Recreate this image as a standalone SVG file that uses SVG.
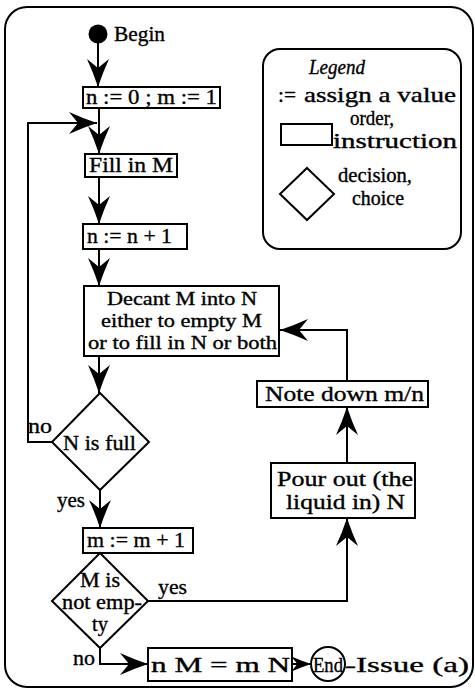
<svg xmlns="http://www.w3.org/2000/svg" width="475" height="689" viewBox="0 0 475 689">
  <style>
    .box { fill: #fff; stroke: #000; stroke-width: 2; }
    .ln { fill: none; stroke: #000; stroke-width: 2; }
    text { font-family: "Liberation Serif", "Times New Roman", serif; font-size: 22px; fill: #000; stroke: #000; stroke-width: 0.35; }
    .sm { font-size: 21px; }
    .xs { font-size: 20px; }
    .dc { font-size: 19px; }
    .it { font-style: italic; }
  </style>
  <defs>
    <!-- swept arrowhead with a notched back -->
    <marker id="arr" markerUnits="userSpaceOnUse" viewBox="0 0 28 22" markerWidth="28" markerHeight="22" refX="28" refY="11" orient="auto">
      <path d="M28,11 Q13,6 0,0 L9,11 L0,22 Q13,16 28,11 Z" fill="#000"/>
    </marker>
    <marker id="arrS" markerUnits="userSpaceOnUse" viewBox="0 0 28 22" markerWidth="20" markerHeight="16" refX="28" refY="11" orient="auto">
      <path d="M28,11 Q13,6 0,0 L9,11 L0,22 Q13,16 28,11 Z" fill="#000"/>
    </marker>
  </defs>

  <rect width="475" height="689" fill="#fff"/>

  <!-- outer frame -->
  <rect x="5" y="7" width="468" height="680" rx="22" class="ln"/>

  <!-- connectors -->
  <g id="connectors">
    <line x1="98" y1="43" x2="98" y2="87" class="ln" marker-end="url(#arr)"/>
    <line x1="99" y1="108" x2="99" y2="154" class="ln" marker-end="url(#arr)"/>
    <path d="M52,442 H28 V123 H97" class="ln" marker-end="url(#arr)"/>
    <line x1="99" y1="177" x2="99" y2="224" class="ln" marker-end="url(#arr)"/>
    <line x1="99" y1="249" x2="99" y2="286" class="ln" marker-end="url(#arr)"/>
    <line x1="99" y1="356" x2="99" y2="393" class="ln" marker-end="url(#arr)"/>
    <line x1="100" y1="490" x2="100" y2="528" class="ln" marker-end="url(#arr)"/>
    <path d="M148,601 H347 V518" class="ln" marker-end="url(#arr)"/>
    <line x1="347" y1="463" x2="347" y2="407" class="ln" marker-end="url(#arr)"/>
    <path d="M347,381 V330 H280" class="ln" marker-end="url(#arr)"/>
    <path d="M100,648 V664 H148" class="ln" marker-end="url(#arr)"/>
    <line x1="292" y1="664" x2="311" y2="664" class="ln" marker-end="url(#arrS)"/>
  </g>

  <!-- edge labels -->
  <g id="labels">
    <text x="28" y="433" textLength="24" lengthAdjust="spacingAndGlyphs">no</text>
    <text x="57" y="507" textLength="28" lengthAdjust="spacingAndGlyphs">yes</text>
    <text x="158" y="594" textLength="29" lengthAdjust="spacingAndGlyphs">yes</text>
    <text x="73" y="665" textLength="22" lengthAdjust="spacingAndGlyphs">no</text>
  </g>

  <g id="begin">
    <circle cx="98" cy="34" r="9.5" fill="#000"/>
    <text x="114" y="41" textLength="51" lengthAdjust="spacingAndGlyphs">Begin</text>
  </g>

  <g id="init">
    <rect x="83" y="87" width="137" height="21" class="box"/>
    <text x="86" y="104" textLength="131" lengthAdjust="spacingAndGlyphs">n := 0 ; m := 1</text>
  </g>

  <g id="fill">
    <rect x="85" y="154" width="92" height="23" class="box"/>
    <text x="89" y="172" textLength="84" lengthAdjust="spacingAndGlyphs">Fill in M</text>
  </g>

  <g id="incn">
    <rect x="83" y="224" width="104" height="25" class="box"/>
    <text x="87" y="243" textLength="85" lengthAdjust="spacingAndGlyphs">n := n + 1</text>
  </g>

  <g id="decant">
    <rect x="84" y="286" width="195" height="70" class="box"/>
    <text x="107" y="305" class="dc" textLength="150" lengthAdjust="spacingAndGlyphs">Decant M into N</text>
    <text x="101" y="327" class="dc" textLength="161" lengthAdjust="spacingAndGlyphs">either to empty M</text>
    <text x="88" y="349" class="dc" textLength="189" lengthAdjust="spacingAndGlyphs">or to fill in N or both</text>
  </g>

  <g id="full">
    <polygon points="100,393 149,442 100,490 52,442" class="box"/>
    <text x="63" y="450" textLength="73" lengthAdjust="spacingAndGlyphs">N is full</text>
  </g>

  <g id="incm">
    <rect x="83" y="528" width="110" height="25" class="box"/>
    <text x="87" y="547" textLength="98" lengthAdjust="spacingAndGlyphs">m := m + 1</text>
  </g>

  <g id="notempty">
    <polygon points="100,553 148,601 100,648 52,601" class="box"/>
    <text x="80" y="587" class="xs" textLength="40" lengthAdjust="spacingAndGlyphs">M is</text>
    <text x="62" y="609" class="xs" textLength="80" lengthAdjust="spacingAndGlyphs">not emp-</text>
    <text x="92" y="631" class="xs" textLength="16" lengthAdjust="spacingAndGlyphs">ty</text>
  </g>

  <g id="pour">
    <rect x="271" y="463" width="144" height="55" class="box"/>
    <text x="277" y="486" textLength="136" lengthAdjust="spacingAndGlyphs">Pour out (the</text>
    <text x="286" y="509" textLength="119" lengthAdjust="spacingAndGlyphs">liquid in) N</text>
  </g>

  <g id="note">
    <rect x="257" y="381" width="171" height="26" class="box"/>
    <text x="265" y="401" textLength="159" lengthAdjust="spacingAndGlyphs">Note down m/n</text>
  </g>

  <g id="result">
    <rect x="148" y="648" width="144" height="33" class="box"/>
    <text x="151" y="672" textLength="139" lengthAdjust="spacingAndGlyphs">n M = m N</text>
  </g>

  <g id="end">
    <circle cx="328" cy="664" r="17" class="ln"/>
    <text x="313" y="672" textLength="30" lengthAdjust="spacingAndGlyphs">End</text>
    <text x="345" y="672" textLength="124" lengthAdjust="spacingAndGlyphs">-Issue (a)</text>
  </g>

  <g id="legend">
    <rect x="263" y="49" width="198" height="200" rx="17" class="ln"/>
    <text x="309" y="74" class="sm it" textLength="56" lengthAdjust="spacingAndGlyphs">Legend</text>
    <text x="278" y="102" class="sm" textLength="18" lengthAdjust="spacingAndGlyphs">:=</text>
    <text x="304" y="102" class="sm" textLength="152" lengthAdjust="spacingAndGlyphs">assign a value</text>
    <rect x="281" y="124" width="51" height="21" class="ln"/>
    <text x="350" y="125" class="xs" textLength="44" lengthAdjust="spacingAndGlyphs">order,</text>
    <text x="333" y="148" class="xs" textLength="124" lengthAdjust="spacingAndGlyphs">instruction</text>
    <polygon points="307,168 334,194 307,220 280,194" class="ln"/>
    <text x="338" y="182" class="xs" textLength="74" lengthAdjust="spacingAndGlyphs">decision,</text>
    <text x="352" y="205" class="xs" textLength="52" lengthAdjust="spacingAndGlyphs">choice</text>
  </g>
</svg>
